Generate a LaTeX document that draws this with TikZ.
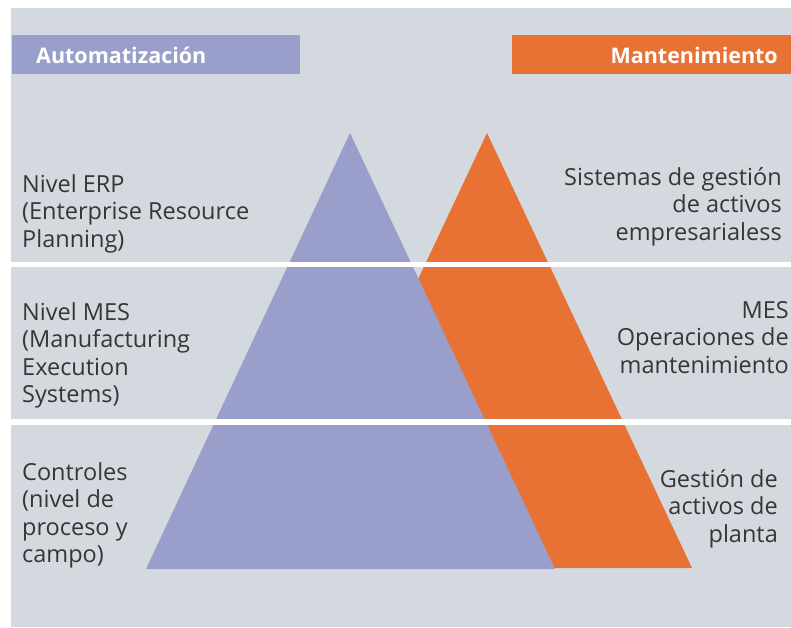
\documentclass[tikz,border=0pt]{standalone}
\usepackage{fontspec}
\setmainfont{Open Sans}
\definecolor{bggrey}{HTML}{D4D9DF}
\definecolor{lav}{HTML}{999ECB}
\definecolor{orng}{HTML}{E87233}
\definecolor{txtgrey}{HTML}{363636}
\begin{document}
\begin{tikzpicture}[x=1pt,y=-1pt,
  lbl/.style={font=\fontsize{23.5}{27.5}\selectfont, text=txtgrey, inner sep=0pt},
  lbll/.style={lbl, align=left, anchor=north west},
  lblr/.style={lbl, align=right, anchor=north east},
  hdr/.style={font=\fontsize{21.5}{24}\selectfont\bfseries, text=white, inner sep=0pt}]
\useasboundingbox (0,0) rectangle (791,627);
\clip (0,0) rectangle (791,627);
\fill[white] (0,0) rectangle (791,627);
\fill[bggrey] (11,8) rectangle (791,627);
% header bars
\fill[lav] (12,35) rectangle (300,74);
\node[hdr, anchor=base west] (auto) at (36,63) {Automatización};
\fill[orng] (512,35) rectangle (791,74);
\node[hdr, anchor=base east] (mant) at (778,63) {Mantenimiento};
% triangles
\fill[orng] (487,133) -- (692,568) -- (282,568) -- cycle;
\fill[lav] (350,133) -- (555,569) -- (146,569) -- cycle;
% white separators
\fill[white] (11,262) rectangle (791,267);
\fill[white] (11,419) rectangle (791,425);
% left labels
\node[lbll] (erp) at (22,{192-19.25}) {\strut Nivel ERP\\(Enterprise Resource\\Planning)};
\node[lbll] (mes) at (22,{320-19.25}) {\strut Nivel MES\\(Manufacturing\\Execution\\Systems)};
\node[lbll] (ctrl) at (22,{480-19.25}) {\strut Controles\\(nivel de\\proceso y\\campo)};
% right labels
\node[lblr] (sga) at (782,{185-19.25}) {\strut Sistemas de gestión\\de activos\\empresarialess};
\node[lblr] (mesm) at (789,{318-19.25}) {\strut MES\\Operaciones de\\mantenimiento};
\node[lblr] (gap) at (778,{487-19.25}) {\strut Gestión de\\activos de\\planta};
\end{tikzpicture}
\end{document}
